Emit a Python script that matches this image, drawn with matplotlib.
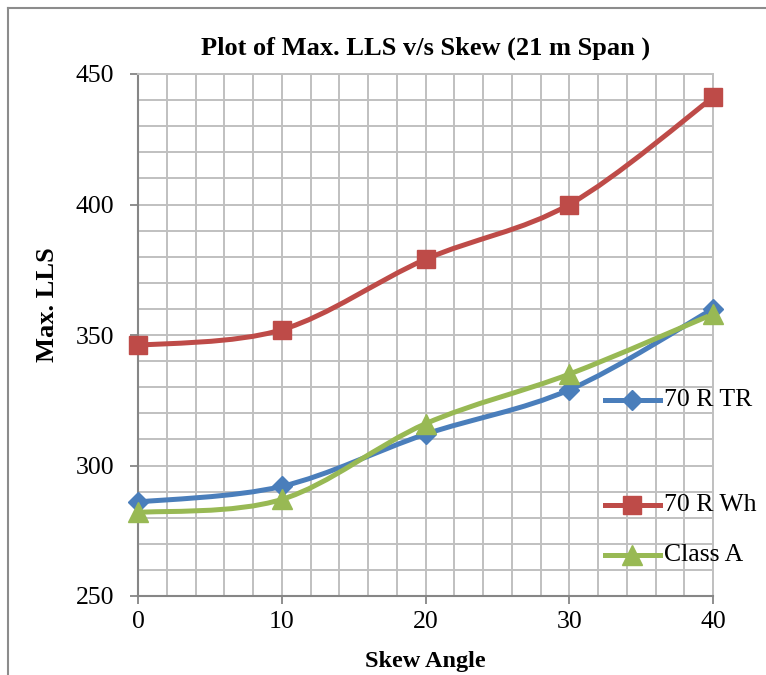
import numpy as np
import matplotlib.pyplot as plt
from matplotlib.path import Path
from matplotlib.patches import PathPatch
from matplotlib.lines import Line2D

# Max. LLS for each skew angle (21 m span)
skew = [0, 10, 20, 30, 40]
lls_70r_tr = [286, 292, 312, 329, 360]
lls_70r_wh = [346, 352, 379, 400, 441]
lls_class_a = [282, 287, 316, 335, 358]

series = [
    ("70 R TR", lls_70r_tr, "#4A7EBB", "D", 10),
    ("70 R Wh", lls_70r_wh, "#BE4B48", "s", 13.5),
    ("Class A", lls_class_a, "#98B954", "^", 14),
]

plt.rcParams['font.family'] = ['Liberation Serif', 'DejaVu Serif']


def smooth_path(xs, ys):
    # cubic bezier through the points (catmull-rom style, like a spreadsheet "smoothed line")
    pts = np.column_stack([xs, ys]).astype(float)
    ext = np.vstack([pts[0], pts, pts[-1]])
    verts = [tuple(pts[0])]
    codes = [Path.MOVETO]
    for i in range(len(pts) - 1):
        p0, p1, p2, p3 = ext[i], ext[i + 1], ext[i + 2], ext[i + 3]
        c1 = p1 + (p2 - p0) / 6.0
        c2 = p2 - (p3 - p1) / 6.0
        verts += [tuple(c1), tuple(c2), tuple(p2)]
        codes += [Path.CURVE4] * 3
    return Path(verts, codes)


fig = plt.figure(figsize=(7.66, 6.75), dpi=100)
ax = fig.add_axes([138 / 766, 1 - 596 / 675, (713 - 138) / 766, (596 - 74) / 675])

ax.set_xlim(0, 40)
ax.set_ylim(250, 450)
ax.set_xticks(skew)
ax.set_xticks(np.arange(0, 41, 2), minor=True)
ax.set_yticks(np.arange(250, 451, 50))
ax.set_yticks(np.arange(250, 451, 10), minor=True)

ax.grid(which='both', color='#C0C0C0', linewidth=1.4)
ax.set_axisbelow(True)
ax.tick_params(axis='both', which='minor', length=0)
ax.tick_params(axis='both', which='major', length=6, width=1.3, color='#868686',
               labelsize=18.5, direction='out')
ax.tick_params(axis='y', pad=11)
ax.tick_params(axis='x', pad=5)

for side in ['top', 'right']:
    ax.spines[side].set_color('#C0C0C0')
    ax.spines[side].set_linewidth(1.4)
for side in ['left', 'bottom']:
    ax.spines[side].set_color('#868686')
    ax.spines[side].set_linewidth(1.5)

for name, vals, color, marker, ms in series:
    ax.add_patch(PathPatch(smooth_path(skew, vals), facecolor='none', edgecolor=color,
                           linewidth=3.6, capstyle='round', zorder=3))
    ax.plot(skew, vals, linestyle='none', marker=marker, markersize=ms, color=color,
            markeredgecolor=color, zorder=4, clip_on=False)

ax.set_title("Plot of Max. LLS v/s Skew (21 m Span )", fontsize=19, fontweight='bold', pad=14)
ax.set_xlabel("Skew Angle", fontsize=17.5, fontweight='bold', labelpad=13)
ax.set_ylabel("Max. LLS", fontsize=19, fontweight='bold')
ax.yaxis.set_label_coords(-0.137, 0.559)

# legend entries placed individually on the right side
legend_y = [400, 505, 555]
W, H = 766, 675
for (name, vals, color, marker, ms), py in zip(series, legend_y):
    fy = 1 - py / H
    fig.add_artist(Line2D([605 / W, 660 / W], [fy, fy], color=color, linewidth=3.6,
                          transform=fig.transFigure))
    fig.add_artist(Line2D([632 / W], [fy], marker=marker, markersize=ms, color=color,
                          linestyle='none', transform=fig.transFigure))
    fig.text(664 / W, fy, name, fontsize=18.5, va='center', ha='left')

# chart-area border (left and top edges)
fig.add_artist(Line2D([8 / W, 8 / W], [0, 1 - 8 / H], color='#8C8C8C', linewidth=1.5,
                      transform=fig.transFigure))
fig.add_artist(Line2D([8 / W, 1], [1 - 8 / H, 1 - 8 / H], color='#8C8C8C', linewidth=1.5,
                      transform=fig.transFigure))

fig.savefig("out.png", dpi=100)
